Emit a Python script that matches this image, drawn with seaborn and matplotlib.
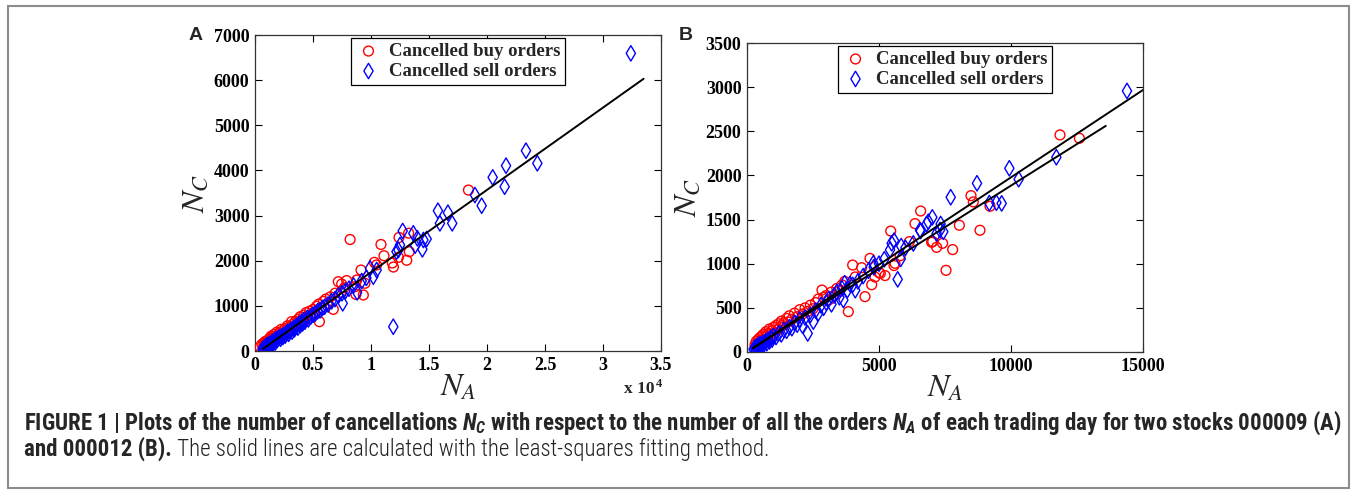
import numpy as np
import pandas as pd
import seaborn as sns
import matplotlib.pyplot as plt
from matplotlib.patches import Rectangle

# ---- panel A (stock 000009): N_A vs N_C ----
buy_a_x = [430, 600, 700, 760, 820, 880, 900, 950, 1000, 1050,
           1100, 1150, 1200, 1260, 1300, 1350, 1400, 1480, 1500, 1550,
           1600, 1650, 1700, 1750, 1800, 1850, 1900, 2000, 2050, 2100,
           2200, 2250, 2300, 2400, 2450, 2500, 2600, 2700, 2750, 2800,
           2900, 3000, 3100, 3150, 3200, 3300, 3400, 3500, 3600, 3700,
           3800, 3900, 4000, 4100, 4200, 4300, 4400, 4500, 4700, 4800,
           5000, 5100, 5300, 5500, 5550, 5700, 5900, 6100, 6300, 6500,
           6750, 6900, 7180, 7400, 7470, 7700, 7900, 8200, 8620, 8700,
           8770, 9140, 9340, 9480, 10290, 10480, 10860, 11120, 11840, 11930,
           12360, 12415, 13080, 13250, 13300, 18400]
buy_a_y = [90, 150, 70, 180, 110, 210, 150, 130, 220, 170,
           160, 250, 190, 280, 200, 230, 330, 250, 210, 300,
           260, 370, 280, 240, 330, 290, 420, 350, 300, 400,
           340, 480, 390, 350, 460, 410, 500, 440, 390, 560,
           470, 540, 480, 650, 520, 600, 540, 660, 590, 700,
           630, 760, 680, 650, 790, 720, 850, 760, 880, 800,
           920, 860, 990, 1040, 650, 960, 1100, 1150, 1050, 1200,
           923, 1280, 1535, 1300, 1484, 1400, 1560, 2470, 1425, 1255,
           1573, 1794, 1240, 1500, 1964, 1905, 2360, 2110, 1950, 1860,
           2075, 2515, 2010, 2610, 2200, 3565]

sell_a_x = [650, 750, 800, 850, 900, 1000, 1050, 1100, 1200, 1250,
            1300, 1400, 1450, 1500, 1600, 1700, 1750, 1800, 1900, 2000,
            2100, 2200, 2300, 2400, 2500, 2600, 2700, 2800, 2900, 3000,
            3100, 3200, 3300, 3400, 3500, 3600, 3700, 3800, 3900, 4000,
            4100, 4200, 4300, 4500, 4600, 4800, 5000, 5200, 5400, 5600,
            5800, 6000, 6300, 6600, 6900, 7200, 7500, 7560, 7800, 8100,
            8500, 8800, 9200, 9600, 9915, 10200, 10490, 11920, 12200, 12360,
            12500, 12730, 13650, 13800, 14000, 14430, 14520, 14800, 15770, 15940,
            16630, 17000, 18960, 19540, 20490, 21520, 21640, 23360, 24340, 32400]
sell_a_y = [40, 30, 70, 50, 100, 80, 130, 90, 120, 160,
            110, 170, 140, 200, 180, 230, 190, 260, 240, 280,
            300, 270, 330, 310, 360, 340, 390, 420, 380, 440,
            470, 430, 500, 480, 530, 560, 520, 600, 570, 640,
            610, 680, 650, 730, 700, 760, 800, 830, 880, 900,
            950, 980, 1030, 1100, 1150, 1230, 1280, 1056, 1330, 1380,
            1450, 1300, 1550, 1620, 1831, 1647, 1794, 538, 2200, 2237,
            2348, 2658, 2607, 2333, 2496, 2252, 2459, 2481, 3108, 2828,
            3063, 2828, 3455, 3218, 3846, 3640, 4105, 4437, 4157, 6594]

fit_a_x = [700, 33500]
fit_a_y = [50, 6030]

# ---- panel B (stock 000012) ----
buy_b_x = [300, 350, 400, 420, 450, 480, 500, 530, 560, 600,
           620, 650, 700, 720, 750, 800, 850, 900, 950, 1000,
           1050, 1100, 1150, 1200, 1250, 1300, 1350, 1400, 1500, 1550,
           1600, 1700, 1800, 1900, 2000, 2100, 2200, 2300, 2400, 2500,
           2600, 2700, 2841, 2905, 3000, 3100, 3200, 3300, 3400, 3500,
           3600, 3700, 3838, 4002, 4100, 4343, 4470, 4659, 4722, 4848,
           5000, 5050, 5228, 5443, 5570, 5606, 5800, 6150, 6363, 6577,
           6994, 7034, 7183, 7410, 7538, 7790, 8043, 8485, 8573, 8825,
           9204, 11856, 12590]
buy_b_y = [80, 120, 70, 140, 100, 160, 120, 90, 180, 140,
           200, 110, 170, 230, 150, 210, 260, 190, 240, 280,
           220, 300, 250, 320, 280, 350, 300, 330, 380, 340,
           410, 370, 440, 400, 480, 430, 500, 460, 530, 490,
           560, 600, 702, 620, 640, 590, 680, 640, 720, 690,
           760, 800, 457, 985, 850, 955, 627, 1060, 762, 850,
           900, 890, 866, 1370, 979, 1005, 1090, 1250, 1454, 1597,
           1243, 1250, 1186, 1231, 925, 1160, 1436, 1771, 1700, 1379,
           1651, 2459, 2421]

sell_b_x = [250, 300, 320, 350, 380, 400, 430, 450, 480, 500,
            550, 600, 650, 700, 750, 800, 850, 900, 950, 1000,
            1100, 1200, 1300, 1400, 1500, 1600, 1700, 1800, 1900, 2000,
            2100, 2200, 2300, 2400, 2513, 2600, 2700, 2800, 2900, 3000,
            3100, 3200, 3300, 3400, 3500, 3600, 3649, 3700, 3800, 3900,
            4000, 4100, 4200, 4400, 4600, 4785, 4800, 5000, 5200, 5418,
            5480, 5570, 5708, 5822, 5840, 6000, 6300, 6553, 6577, 6805,
            6868, 7020, 7183, 7311, 7335, 7436, 7716, 8712, 9179, 9446,
            9647, 9937, 10290, 11718, 14394]
sell_b_y = [30, 50, 20, 60, 40, 70, 50, 80, 60, 90,
            70, 100, 90, 120, 100, 140, 120, 160, 140, 180,
            170, 210, 200, 250, 240, 280, 270, 330, 310, 370,
            300, 390, 210, 420, 344, 470, 440, 530, 500, 560,
            600, 540, 640, 680, 620, 720, 589, 780, 700, 770,
            760, 700, 800, 860, 920, 1005, 960, 1000, 1050, 1157,
            1231, 1262, 823, 1054, 1200, 1180, 1230, 1382, 1370, 1450,
            1476, 1525, 1343, 1382, 1450, 1362, 1753, 1911, 1686, 1691,
            1683, 2081, 1957, 2206, 2957]

fit_b1_x = [215, 15000]
fit_b1_y = [42, 2968]
fit_b2_x = [215, 13590]
fit_b2_y = [42, 2561]

a_xticks = [0, 5000, 10000, 15000, 20000, 25000, 30000, 35000]
a_xticklabels = ["0", "0.5", "1", "1.5", "2", "2.5", "3", "3.5"]
a_yticks = [0, 1000, 2000, 3000, 4000, 5000, 6000, 7000]
b_xticks = [0, 5000, 10000, 15000]
b_yticks = [0, 500, 1000, 1500, 2000, 2500, 3000, 3500]

sns.set_style("ticks")
plt.rcParams["font.family"] = ["Liberation Serif", "DejaVu Serif"]
plt.rcParams["font.weight"] = "normal"
plt.rcParams["mathtext.fontset"] = "stix"
plt.rcParams["mathtext.it"] = "Roboto Condensed:italic:bold"
plt.rcParams["mathtext.rm"] = "Roboto Condensed:bold"
plt.rcParams["mathtext.bf"] = "Roboto Condensed:bold"

W, H = 1356, 494
fig = plt.figure(figsize=(W / 100, H / 100), dpi=100)
fig.patch.set_facecolor("white")
axA = fig.add_axes([255 / W, 1 - 351 / H, 406 / W, 316 / H])
axB = fig.add_axes([747 / W, 1 - 352 / H, 396 / W, 309 / H])

serif_bold = {"family": "Liberation Serif", "weight": "bold"}


def draw_panel(ax, bx, by, sx, sy, fits):
    sns.scatterplot(x=bx, y=by, ax=ax, marker="o", s=50, facecolor="none",
                    edgecolor="red", linewidth=1.0, label="Cancelled buy orders", zorder=3)
    sns.scatterplot(x=sx, y=sy, ax=ax, marker="d", s=62, facecolor="none",
                    edgecolor="blue", linewidth=1.0, label="Cancelled sell orders", zorder=3)
    for fx, fy in fits:
        sns.lineplot(x=fx, y=fy, ax=ax, color="black", linewidth=1.4, zorder=4)
    ax.tick_params(direction="in", top=True, right=True, length=5, width=0.8,
                   labelsize=13, pad=4, colors="black")
    for sp in ax.spines.values():
        sp.set_color("#333333")
        sp.set_linewidth(0.9)
    leg = ax.legend(loc="upper center", bbox_to_anchor=(0.5, 0.99), fancybox=False,
                    edgecolor="black", framealpha=1, handletextpad=0.4,
                    borderpad=0.25, labelspacing=0.15, handlelength=1.4, borderaxespad=0,
                    prop={"family": "Liberation Serif", "weight": "bold", "size": 13.5})
    leg.get_frame().set_linewidth(0.9)


draw_panel(axA, buy_a_x, buy_a_y, sell_a_x, sell_a_y, [(fit_a_x, fit_a_y)])
axA.set_xlim(0, 35000)
axA.set_ylim(0, 7000)
axA.set_xticks(a_xticks)
axA.set_xticklabels(a_xticklabels)
axA.set_yticks(a_yticks)
axA.text(0.985, -0.095, "x 10", transform=axA.transAxes, ha="right", va="top",
         fontsize=12.5, **serif_bold)
axA.text(0.987, -0.085, "4", transform=axA.transAxes, ha="left", va="top",
         fontsize=9, **serif_bold)

draw_panel(axB, buy_b_x, buy_b_y, sell_b_x, sell_b_y,
           [(fit_b1_x, fit_b1_y), (fit_b2_x, fit_b2_y)])
axB.set_xlim(0, 15000)
axB.set_ylim(0, 3500)
axB.set_xticks(b_xticks)
axB.set_yticks(b_yticks)

for ax in (axA, axB):
    for lab in ax.get_xticklabels() + ax.get_yticklabels():
        lab.set_fontfamily("Liberation Serif")
        lab.set_fontweight("bold")
    ax.set_xlabel(r"$N_A$", fontsize=23, math_fontfamily="stix", labelpad=0)
    ax.set_ylabel(r"$N_C$", fontsize=23, math_fontfamily="stix", labelpad=2)

fig.text(196 / W, 1 - 35 / H, "A", family="Liberation Sans", weight="bold", fontsize=14,
         ha="center", va="center")
fig.text(686 / W, 1 - 35 / H, "B", family="Liberation Sans", weight="bold", fontsize=14,
         ha="center", va="center")

# outer frame of the figure panel
fig.patches.append(Rectangle((8 / W, 6 / H), 1341 / W, 482 / H, transform=fig.transFigure,
                             fill=False, edgecolor="#8c8c8c", linewidth=1.5))

# caption
cap1 = (r"FIGURE 1 | Plots of the number of cancellations $N_C$ with respect to the number "
        r"of all the orders $N_A$ of each trading day for two stocks 000009 (A)")
cap2a = "and 000012 (B)."
cap2b = " The solid lines are calculated with the least-squares fitting method."
t1 = fig.text(24 / W, 1 - 423 / H, cap1, family="Roboto Condensed", weight="bold",
              fontsize=13, va="center", math_fontfamily="custom")
fig.canvas.draw()
r = fig.canvas.get_renderer()
w1 = t1.get_window_extent(r).width
fs = 13 * 1314 / w1
t1.set_fontsize(fs)
t2 = fig.text(24 / W, 1 - 449 / H, cap2a, family="Roboto Condensed", weight="bold",
              fontsize=fs, va="center")
fig.canvas.draw()
x2 = t2.get_window_extent(r).x1
fig.text(x2 / W, 1 - 449 / H, cap2b, family="Roboto Condensed", weight="light",
         fontsize=fs, va="center", color="#222222")

fig.savefig("out.png", dpi=100)
